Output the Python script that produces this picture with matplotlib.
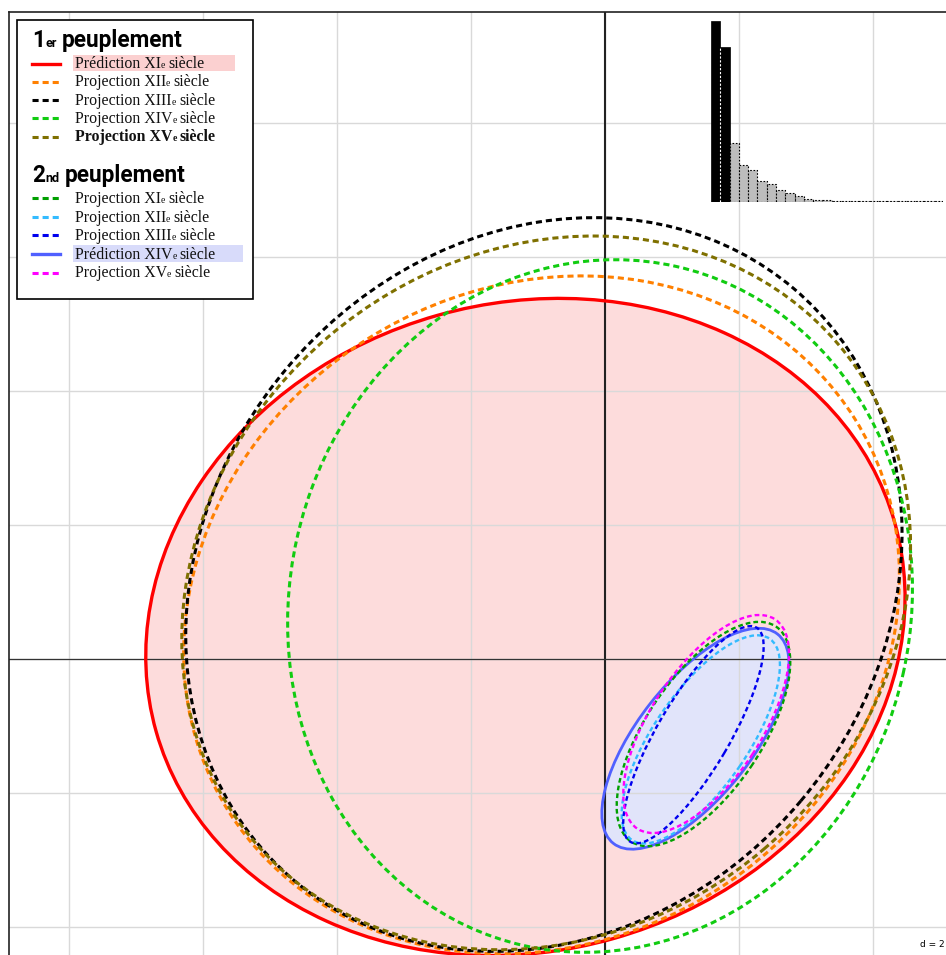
import matplotlib
matplotlib.use("Agg")
import matplotlib.pyplot as plt
from matplotlib.patches import Ellipse, Rectangle
from matplotlib.lines import Line2D
import numpy as np

# ---------------- data ----------------
centuries = ["XI", "XII", "XIII", "XIV", "XV"]

# first population: ellipse centre, full axes lengths and orientation (data units / degrees)
pop1_kind = ["Prédiction", "Projection", "Projection", "Projection", "Projection"]
pop1_cx = [-1.188, -0.947, -0.912, -0.074, -0.878]
pop1_cy = [0.478, 0.659, 1.112, 0.791, 0.987]
pop1_width = [11.456, 11.031, 11.561, 10.388, 11.449]
pop1_height = [9.665, 9.737, 10.028, 9.270, 10.036]
pop1_angle = [15.8, 32.0, 49.9, 77.4, 40.4]

# second population
pop2_kind = ["Projection", "Projection", "Projection", "Prédiction", "Projection"]
pop2_cx = [1.47, 1.43, 1.32, 1.35, 1.51]
pop2_cy = [-1.12, -1.20, -1.13, -1.19, -0.97]
pop2_width = [3.87, 3.64, 3.71, 3.97, 3.74]
pop2_height = [1.72, 1.41, 1.07, 1.71, 1.65]
pop2_angle = [56.0, 55.6, 59.5, 51.9, 56.7]

# eigenvalue screeplot (first two axes kept)
eigenvalues = [181.6, 155.3, 59.0, 37.3, 32.0, 21.3, 18.0, 12.0, 9.3, 6.7,
               3.7, 2.7, 1.8, 1.4, 1.2, 1.0, 1.0, 0.9, 0.9, 0.9,
               0.8, 0.8, 0.8, 0.8, 0.8]
n_kept = 2
grid_step = 2

# ---------------- styles ----------------
pop1_colors = ["#ff0000", "#ff8000", "#000000", "#11cc11", "#7f7000"]
pop2_colors = ["#009f00", "#33bbff", "#0000ee", "#5060ff", "#ff00ff"]
pop1_fill = "#fddcdc"
pop2_fill = "#e1e4fa"
DASH = (0, (2.0, 1.3))

W, H, DPI = 946, 955, 100
fig = plt.figure(figsize=(W / DPI, H / DPI), dpi=DPI)
renderer = fig.canvas.get_renderer()

# main panel: 67 px per unit, origin at pixel (605, 659)
scale = 67.0
ox, oy = 605.0, 659.0
left_px, top_px = 9.0, 12.0
ax = fig.add_axes([left_px / W, 0, (W - left_px) / W, (H - top_px) / H])
ax.set_xlim((left_px - ox) / scale, (W - ox) / scale)
ax.set_ylim((oy - H) / scale, (oy - top_px) / scale)

ax.set_xticks(np.arange(-8, 6, grid_step))
ax.set_yticks(np.arange(-4, 10, grid_step))
ax.tick_params(length=0, labelbottom=False, labelleft=False)
ax.set_axisbelow(True)
ax.grid(True, color="#d9d9d9", lw=1.0)
for s in ("right", "bottom"):
    ax.spines[s].set_visible(False)
for s in ("left", "top"):
    ax.spines[s].set_color("#222222")
    ax.spines[s].set_linewidth(1.2)

ax.axvline(0, color="#222222", lw=1.5, zorder=2)
ax.axhline(0, color="#333333", lw=0.9, zorder=2)

# filled predictions
i1 = pop1_kind.index("Prédiction")
ax.add_patch(Ellipse((pop1_cx[i1], pop1_cy[i1]), pop1_width[i1], pop1_height[i1],
                     angle=pop1_angle[i1], facecolor=pop1_fill, edgecolor="none", zorder=0.2))
i2 = pop2_kind.index("Prédiction")
ax.add_patch(Ellipse((pop2_cx[i2], pop2_cy[i2]), pop2_width[i2], pop2_height[i2],
                     angle=pop2_angle[i2], facecolor=pop2_fill, edgecolor="none", zorder=0.3))


def outline(cx, cy, w, h, a, color, solid, lw, z):
    ax.add_patch(Ellipse((cx, cy), w, h, angle=a, fill=False, edgecolor=color, lw=lw,
                         linestyle="-" if solid else DASH, capstyle="butt", zorder=z))


for k in range(5):
    solid = pop1_kind[k] == "Prédiction"
    outline(pop1_cx[k], pop1_cy[k], pop1_width[k], pop1_height[k], pop1_angle[k],
            pop1_colors[k], solid, 2.4 if solid else 2.2, 3 if solid else 4)
for k in range(5):
    solid = pop2_kind[k] == "Prédiction"
    outline(pop2_cx[k], pop2_cy[k], pop2_width[k], pop2_height[k], pop2_angle[k],
            pop2_colors[k], solid, 2.0 if solid else 1.7, 3 if solid else 4)

fig.text(945 / W, 1 - 944 / H, "d = 2", ha="right", va="center", fontsize=6.5,
         family="DejaVu Sans")

# ---------------- screeplot inset ----------------
base_px, top_bar_px = 202.3, 20.7
axi = fig.add_axes([711 / W, 1 - base_px / H, 232 / W, (base_px - top_bar_px) / H])
axi.set_xlim(-0.5, len(eigenvalues) - 0.5)
axi.set_ylim(0, max(eigenvalues))
axi.set_axis_off()
xs = np.arange(len(eigenvalues))
axi.bar(xs[:n_kept], eigenvalues[:n_kept], width=1.0, color="black", edgecolor="black", lw=0.5)
# white dashed separators between the kept (black) bars
for xk in xs[1:n_kept]:
    axi.vlines(xk - 0.5, 0, min(eigenvalues[xk - 1], eigenvalues[xk]), color="white",
               linestyle=(0, (2, 1.5)), lw=0.8, zorder=3)
axi.bar(xs[n_kept:], eigenvalues[n_kept:], width=1.0, color="#bdbdbd",
        edgecolor="black", linestyle=(0, (1.5, 1.5)), lw=0.8)

# ---------------- legend ----------------
fig.add_artist(Rectangle((17 / W, 1 - 299 / H), (253 - 17) / W, (299 - 20) / H,
                         transform=fig.transFigure, facecolor="white",
                         edgecolor="black", lw=1.2, zorder=2))

SERIF = "Liberation Serif"
SANS = "Roboto"


def rich_text(x, y, parts, zorder=6):
    for s, size, kw, gap in parts:
        t = fig.text(x / W, 1 - y / H, s, fontsize=size, ha="left", va="baseline",
                     zorder=zorder, **kw)
        x += t.get_window_extent(renderer).width + gap
    return x


def heading(y, number, suffix):
    kw = dict(family=SANS, fontweight="bold")
    rich_text(32, y, [(number, 16.3, kw, 0.5), (suffix, 9.0, kw, 5.0),
                      ("peuplement", 16.3, kw, 0)])


def entry(y, kind, century, color, solid, bold=False, highlight=None):
    fig.add_artist(Line2D([32 / W, 60 / W], [1 - y / H, 1 - y / H], transform=fig.transFigure,
                          color=color, lw=2.4 if solid else 2.2,
                          linestyle="-" if solid else DASH, dash_capstyle="butt", zorder=5))
    if highlight is not None:
        x1, c = highlight
        fig.add_artist(Rectangle((73.3 / W, 1 - (y + 7.5) / H), (x1 - 73.3) / W, 16.5 / H,
                                 transform=fig.transFigure, facecolor=c,
                                 edgecolor="none", zorder=3))
    kw = dict(family=SERIF, fontweight="bold" if bold else "normal", color="#111111")
    rich_text(74.5, y + 4.5, [(kind + " " + century, 11.4, kw, 0.3), ("e", 7.0, kw, 3.2),
                              ("siècle", 11.4, kw, 0)])


heading(46.7, "1", "er")
rows1 = [64.0, 82.0, 100.2, 118.4, 136.6]
for k in range(5):
    solid = pop1_kind[k] == "Prédiction"
    entry(rows1[k], pop1_kind[k], centuries[k], pop1_colors[k], solid,
          bold=(k == 4), highlight=(235, "#fbd0d0") if solid else None)

heading(181.7, "2", "nd")
rows2 = [198.5, 217.0, 235.5, 254.0, 272.5]
for k in range(5):
    solid = pop2_kind[k] == "Prédiction"
    entry(rows2[k], pop2_kind[k], centuries[k], pop2_colors[k], solid,
          highlight=(243.3, "#d8dbfa") if solid else None)

fig.savefig("out.png", dpi=DPI)
